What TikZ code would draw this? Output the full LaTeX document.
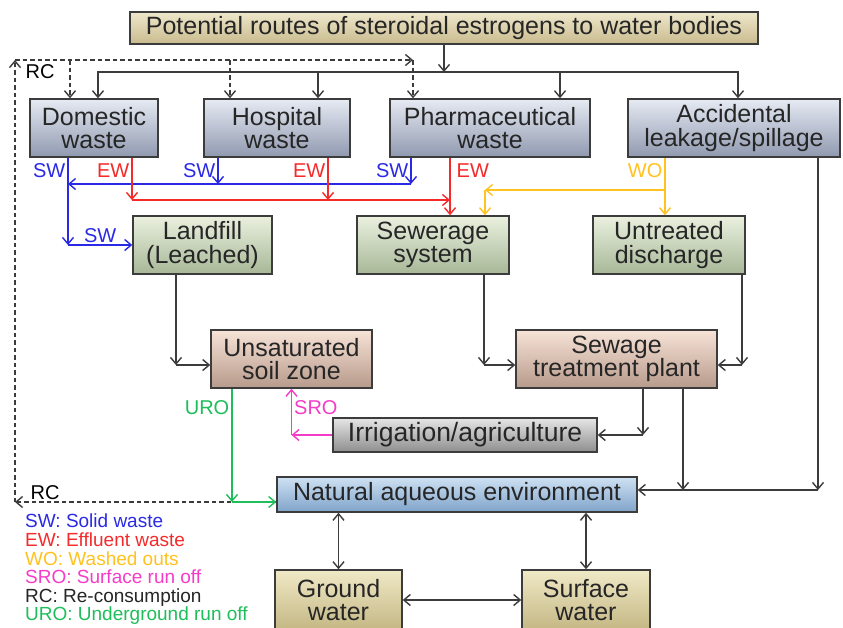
\documentclass[tikz,border=0pt]{standalone}
\usepackage{fontspec}
\setmainfont{Liberation Sans}
\usepackage{tikz}
\usetikzlibrary{arrows.meta}
\usetikzlibrary{positioning}

\definecolor{swcol}{HTML}{2A2AE6}
\definecolor{ewcol}{HTML}{F52A2A}
\definecolor{wocol}{HTML}{FFC21E}
\definecolor{srocol}{HTML}{F53CC8}
\definecolor{urocol}{HTML}{1EBE5A}
\definecolor{edgecol}{HTML}{3C3C3C}
\definecolor{titletop}{HTML}{EEE7CB}
\definecolor{titlebot}{HTML}{C9BB8E}
\definecolor{srctop}{HTML}{E6EAF3}
\definecolor{srcbot}{HTML}{8F99AF}
\definecolor{sinktop}{HTML}{EAF1DF}
\definecolor{sinkbot}{HTML}{A7B797}
\definecolor{soiltop}{HTML}{F7E3D7}
\definecolor{soilbot}{HTML}{B79A8B}
\definecolor{graytop}{HTML}{E6E6E6}
\definecolor{graybot}{HTML}{8E8E8E}
\definecolor{envtop}{HTML}{CFE1F3}
\definecolor{envbot}{HTML}{7FA4CA}
\definecolor{watertop}{HTML}{F0E9C6}
\definecolor{waterbot}{HTML}{C4B784}

\tikzset{
  box/.style={draw=edgecol, line width=1.5pt, align=center, inner sep=0pt,
    font=\fontsize{25}{23.5}\selectfont, text=black!85},
  titlebox/.style={box, top color=titletop, bottom color=titlebot},
  srcbox/.style={box, top color=srctop, bottom color=srcbot},
  sinkbox/.style={box, top color=sinktop, bottom color=sinkbot},
  soilbox/.style={box, top color=soiltop, bottom color=soilbot},
  grayboxx/.style={box, top color=graytop, bottom color=graybot},
  envbox/.style={box, top color=envtop, bottom color=envbot},
  waterbox/.style={box, top color=watertop, bottom color=waterbot},
  lbl/.style={font=\fontsize{20}{20}\selectfont, inner sep=2pt},
  >={Straight Barb[length=6.5pt,width=11pt]},
  flow/.style={draw=edgecol, line width=1.4pt},
  rcline/.style={flow, dashed, dash pattern=on 4.5pt off 3pt},
  swline/.style={draw=swcol, line width=1.4pt},
  ewline/.style={draw=ewcol, line width=1.4pt},
  woline/.style={draw=wocol, line width=1.4pt},
  sroline/.style={draw=srocol, line width=1.4pt},
  uroline/.style={draw=urocol, line width=1.4pt}
}

\begin{document}
\begin{tikzpicture}[x=1pt, y=-1pt]
  \useasboundingbox[fill=white] (0,0) rectangle (843,627);

  \node (title) [titlebox, minimum width=628, minimum height=32] at (444,28)
    {Potential routes of steroidal estrogens to water bodies};

  \node (dom) [srcbox, minimum width=128, minimum height=58] at (94,128) {Domestic\\waste};
  \node (hosp) [srcbox, minimum width=146, minimum height=58] at (277,128) {Hospital\\waste};
  \node (pharm) [srcbox, minimum width=200, minimum height=58] at (490,128) {Pharmaceutical\\waste};
  \node (acc) [srcbox, minimum width=212, minimum height=58] at (734,128) {Accidental\\leakage/spillage};

  \node (land) [sinkbox, minimum width=139, minimum height=58] at (202.5,245) {Landfill\\(Leached)};
  \node (sewer) [sinkbox, minimum width=152, minimum height=58] at (433,245) {Sewerage\\system};
  \node (untr) [sinkbox, minimum width=152, minimum height=58] at (669,245) {Untreated\\discharge};

  \node (unsat) [soilbox, minimum width=161, minimum height=58] at (291.5,359) {Unsaturated\\soil zone};
  \node (stp) [soilbox, minimum width=201, minimum height=58] at (616.5,359) {Sewage\\treatment plant};

  \node (irr) [grayboxx, minimum width=264, minimum height=34, font=\fontsize{26.5}{26}\selectfont] at (465,435) {Irrigation/agriculture};
  \node (nat) [envbox, minimum width=360, minimum height=35] at (457,494.5) {Natural aqueous environment};

  \node (ground) [waterbox, minimum width=127, minimum height=60] at (338.5,600) {Ground\\water};
  \node (surf) [waterbox, minimum width=128, minimum height=60] at (586,600) {Surface\\water};

  \node (key) [anchor=north west, align=left, inner sep=0pt,
    font=\fontsize{19}{18.6}\selectfont] at (25,514)
    {\textcolor{swcol}{SW: Solid waste}\\
     \textcolor{ewcol}{EW: Effluent waste}\\
     \textcolor{wocol}{WO: Washed outs}\\
     \textcolor{srocol}{SRO: Surface run off}\\
     \textcolor{black!85}{RC: Re-consumption}\\
     \textcolor{urocol}{URO: Underground run off}};

  % sources
  \coordinate (top) at (444,72);
  \draw[flow, ->] (title.south) -- (top);
  \draw[flow, ->] (top) -| ([xshift=4pt]dom.north);
  \draw[flow, ->] (top) -| ([xshift=41pt]hosp.north);
  \draw[flow, ->] (top) -| ([xshift=70pt]pharm.north);
  \draw[flow, ->] (top) -| ([xshift=4pt]acc.north);

  % re-consumption
  \coordinate (rcB) at (15,502);
  \coordinate (rcT) at (15,60);
  \path ([xshift=-24pt]dom.north) coordinate (dd)
        ([xshift=-47pt]hosp.north) coordinate (hd)
        ([xshift=-77pt]pharm.north) coordinate (pd);
  \draw[rcline, ->] ([yshift=-7.5pt]nat.west) -- node[lbl, above, pos=0.885] {RC} (rcB);
  \draw[rcline, ->] (rcB) -- node[lbl, right=8pt, pos=0.973] {RC} (rcT);
  \draw[rcline, ->] (rcT) -- (pd |- rcT);
  \foreach \c in {dd,hd,pd}
    \draw[rcline, ->] (\c |- rcT) -- (\c);

  % solid waste
  \path ([xshift=-26pt]dom.south) coordinate (dsw)
        ([xshift=-59pt]hosp.south) coordinate (hsw)
        ([xshift=-79pt]pharm.south) coordinate (psw);
  \coordinate (swbus) at (68,184);
  \draw[swline, ->] (dsw) -- node[lbl, left, pos=0.15, text=swcol] {SW} (dsw |- land.west);
  \draw[swline, ->] (dsw |- land.west) -- node[lbl, above, text=swcol] {SW} (land.west);
  \draw[swline, ->] (hsw) -- node[lbl, left, text=swcol] {SW} (hsw |- swbus);
  \draw[swline, ->] (psw) -- node[lbl, left, text=swcol] {SW} (psw |- swbus);
  \draw[swline, ->] (psw |- swbus) -- (swbus);

  % effluent waste
  \path ([xshift=38pt]dom.south) coordinate (dew)
        ([xshift=51pt]hosp.south) coordinate (hew)
        ([xshift=-40pt]pharm.south) coordinate (pew);
  \coordinate (ewbus) at (132,200);
  \draw[ewline, ->] (dew) -- node[lbl, left, pos=0.3, text=ewcol] {EW} (ewbus);
  \draw[ewline, ->] (hew) -- node[lbl, left, pos=0.3, text=ewcol] {EW} (hew |- ewbus);
  \draw[ewline, ->] (ewbus) -- (pew |- ewbus);
  \draw[ewline, ->] (pew) -- node[lbl, right=4pt, pos=0.22, text=ewcol] {EW} (pew |- sewer.north);

  % washed outs
  \path ([xshift=-69pt]acc.south) coordinate (awo)
        ([xshift=52pt]sewer.north) coordinate (swo);
  \coordinate (wobus) at (665,190);
  \draw[woline, ->] (awo) -- node[lbl, left, pos=0.22, text=wocol] {WO} (awo |- untr.north);
  \draw[woline, ->] (wobus) -- (swo |- wobus);
  \draw[woline, ->] (swo |- wobus) -- (swo);

  % to soil and plant
  \path ([xshift=-26.5pt]land.south) coordinate (ls)
        ([xshift=51pt]sewer.south) coordinate (ss)
        ([xshift=73pt]untr.south) coordinate (us2)
        ([yshift=-6pt]unsat.west) coordinate (uw)
        ([yshift=-6pt]stp.west) coordinate (pw)
        ([yshift=-6pt]stp.east) coordinate (pe);
  \draw[flow, ->] (ls) -- (ls |- uw);
  \draw[flow, ->] (ls |- uw) -- (uw);
  \draw[flow, ->] (ss) -- (ss |- pw);
  \draw[flow, ->] (ss |- pw) -- (pw);
  \draw[flow, ->] (us2) -- (us2 |- pe);
  \draw[flow, ->] (us2 |- pe) -- (pe);

  % to environment
  \path ([xshift=84pt]acc.south) coordinate (as)
        ([xshift=66.5pt]stp.south) coordinate (st2)
        ([xshift=26.5pt]stp.south) coordinate (st1)
        ([yshift=4.5pt]nat.east) coordinate (ne)
        ([xshift=-59.5pt]unsat.south) coordinate (uso)
        ([yshift=-7.5pt]nat.west) coordinate (nw);
  \draw[flow, ->] (as) -- (as |- ne);
  \draw[flow, ->] (as |- ne) -- (ne);
  \draw[flow, ->] (st2) -- (st2 |- ne);
  \draw[flow, ->] (st1) -- (st1 |- irr.east);
  \draw[flow, ->] (st1 |- irr.east) -- (irr.east);

  \draw[sroline, ->] (irr.west) -- (irr.west -| unsat.south);
  \draw[sroline, ->] (irr.west -| unsat.south) -- node[lbl, right, pos=0.6, text=srocol] {SRO} (unsat.south);

  \draw[uroline, ->] (uso) -- node[lbl, left, pos=0.17, text=urocol] {URO} (uso |- nw);
  \draw[uroline, ->] (uso |- nw) -- (nw);

  % water bodies
  \draw[flow, <->] (ground.north |- nat.south) -- (ground.north);
  \draw[flow, <->] (surf.north |- nat.south) -- (surf.north);
  \draw[flow, <->] (ground.east) -- (surf.west);

\end{tikzpicture}
\end{document}
